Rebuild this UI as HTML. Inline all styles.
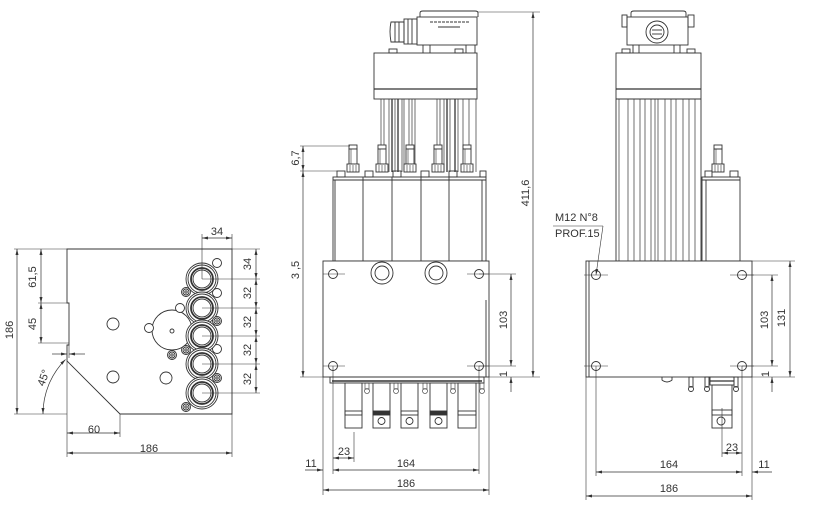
<!DOCTYPE html>
<html><head><meta charset="utf-8"><style>
html,body{margin:0;padding:0;background:#fff;}
svg{display:block;}
text{font-family:"Liberation Sans",sans-serif;font-size:11px;fill:#333;}
</style></head><body>
<svg width="816" height="516" viewBox="0 0 816 516" xmlns="http://www.w3.org/2000/svg">
<defs>
<marker id="a" viewBox="0 0 8 4" refX="8" refY="2" markerWidth="6" markerHeight="3" markerUnits="userSpaceOnUse" orient="auto-start-reverse"><path d="M0,0L8,2L0,4z" fill="#333"/></marker>
</defs>

<!-- ================= LEFT VIEW ================= -->
<g fill="none" stroke="#333" stroke-width="0.9">
<path d="M67,249H232V414H120L67,361V345H69V303H67Z"/>
<circle cx="113" cy="324" r="6"/>
<circle cx="113" cy="377" r="6"/>
<circle cx="166" cy="378" r="6"/>
<circle cx="172" cy="330" r="20"/>
<circle cx="172" cy="331" r="2"/>
<circle cx="149" cy="328" r="4.5" fill="#fff"/>
<circle cx="180" cy="308" r="4.5" fill="#fff"/>
<circle cx="217" cy="263" r="4.5"/>
<circle cx="217" cy="293" r="4.5"/>
<circle cx="217" cy="349" r="4.5"/>
<g>
<circle cx="202" cy="279" r="16" fill="#fff"/><circle cx="202" cy="279" r="14"/><circle cx="202" cy="279" r="11" stroke-width="1.8"/><circle cx="202" cy="279" r="9"/>
<circle cx="202" cy="308" r="16" fill="#fff"/><circle cx="202" cy="308" r="14"/><circle cx="202" cy="308" r="11" stroke-width="1.8"/><circle cx="202" cy="308" r="9"/>
<circle cx="202" cy="336" r="16" fill="#fff"/><circle cx="202" cy="336" r="14"/><circle cx="202" cy="336" r="11" stroke-width="1.8"/><circle cx="202" cy="336" r="9"/>
<circle cx="202" cy="364" r="16" fill="#fff"/><circle cx="202" cy="364" r="14"/><circle cx="202" cy="364" r="11" stroke-width="1.8"/><circle cx="202" cy="364" r="9"/>
<circle cx="202" cy="393" r="16" fill="#fff"/><circle cx="202" cy="393" r="14"/><circle cx="202" cy="393" r="11" stroke-width="1.8"/><circle cx="202" cy="393" r="9"/>
</g>
<g>
<circle cx="186" cy="292" r="4.5" fill="#fff"/><circle cx="186" cy="292" r="3"/><circle cx="186" cy="292" r="1.2"/>
<circle cx="217" cy="321" r="4.5" fill="#fff"/><circle cx="217" cy="321" r="3"/><circle cx="217" cy="321" r="1.2"/>
<circle cx="172" cy="355" r="4.5" fill="#fff"/><circle cx="172" cy="355" r="3"/><circle cx="172" cy="355" r="1.2"/>
<circle cx="186" cy="350" r="4.5" fill="#fff"/><circle cx="186" cy="350" r="3"/><circle cx="186" cy="350" r="1.2"/>
<circle cx="217" cy="378" r="4.5" fill="#fff"/><circle cx="217" cy="378" r="3"/><circle cx="217" cy="378" r="1.2"/>
<circle cx="186" cy="407" r="4.5" fill="#fff"/><circle cx="186" cy="407" r="3"/><circle cx="186" cy="407" r="1.2"/>
</g>
<g stroke-width="0.6">
<line x1="202" y1="279" x2="260" y2="279"/>
<line x1="202" y1="308" x2="260" y2="308"/>
<line x1="202" y1="336" x2="260" y2="336"/>
<line x1="202" y1="364" x2="260" y2="364"/>
<line x1="202" y1="393" x2="260" y2="393"/>
<line x1="232" y1="249" x2="260" y2="249"/>
<line x1="202" y1="234" x2="202" y2="279"/>
<line x1="232" y1="234" x2="232" y2="249"/>
<line x1="14" y1="249" x2="67" y2="249"/>
<line x1="14" y1="414" x2="67" y2="414"/>
<line x1="38" y1="303" x2="69" y2="303"/>
<line x1="38" y1="343" x2="69" y2="343"/>
<line x1="69" y1="345" x2="69" y2="358"/>
<line x1="67" y1="361" x2="67" y2="457"/>
<line x1="120" y1="414" x2="120" y2="437"/>
<line x1="232" y1="414" x2="232" y2="457"/>
</g>
<g stroke-width="0.7">
<line x1="202" y1="238" x2="232" y2="238" marker-start="url(#a)" marker-end="url(#a)"/>
<line x1="256" y1="249" x2="256" y2="279" marker-start="url(#a)" marker-end="url(#a)"/>
<line x1="256" y1="279" x2="256" y2="308" marker-start="url(#a)" marker-end="url(#a)"/>
<line x1="256" y1="308" x2="256" y2="336" marker-start="url(#a)" marker-end="url(#a)"/>
<line x1="256" y1="336" x2="256" y2="364" marker-start="url(#a)" marker-end="url(#a)"/>
<line x1="256" y1="364" x2="256" y2="393" marker-start="url(#a)" marker-end="url(#a)"/>
<line x1="17" y1="249" x2="17" y2="414" marker-start="url(#a)" marker-end="url(#a)"/>
<line x1="41" y1="249" x2="41" y2="303" marker-start="url(#a)" marker-end="url(#a)"/>
<line x1="41" y1="303" x2="41" y2="343" marker-start="url(#a)" marker-end="url(#a)"/>
<line x1="52" y1="354" x2="67" y2="354" marker-end="url(#a)"/>
<line x1="85" y1="354" x2="69" y2="354" marker-end="url(#a)"/>
<path d="M43,414A77,77 0 0 1 65.5,359.5" marker-start="url(#a)" marker-end="url(#a)"/>
<line x1="67" y1="433" x2="120" y2="433" marker-start="url(#a)" marker-end="url(#a)"/>
<line x1="67" y1="453" x2="232" y2="453" marker-start="url(#a)" marker-end="url(#a)"/>
</g>
</g>

<!-- ================= MIDDLE VIEW ================= -->
<g fill="none" stroke="#333" stroke-width="0.9">
<path d="M420,17V13Q420,11 423,11H475Q478,11 478,13V17"/>
<rect x="417" y="17" width="60" height="28"/>
<line x1="430" y1="22" x2="470" y2="22" stroke-dasharray="3,1"/>
<line x1="438" y1="27" x2="460" y2="27"/>
<path d="M391,22Q389,31 391,42H404V22Z"/>
<line x1="395" y1="22" x2="395" y2="42"/>
<line x1="399" y1="22" x2="399" y2="42"/>
<rect x="404" y="19" width="13" height="25"/>
<line x1="408" y1="19" x2="408" y2="44"/>
<line x1="412" y1="19" x2="412" y2="44"/>
<line x1="423" y1="45" x2="423" y2="53"/>
<line x1="430" y1="45" x2="430" y2="53"/>
<line x1="466" y1="45" x2="466" y2="53"/>
<line x1="475" y1="45" x2="475" y2="53"/>
<rect x="389" y="49" width="8" height="4"/>
<rect x="455" y="49" width="8" height="4"/>
<rect x="374" y="53" width="103" height="46"/>
<line x1="374" y1="89" x2="477" y2="89" stroke-width="1.2"/>
<g stroke-width="0.7">
<line x1="381" y1="99" x2="381" y2="150"/><line x1="384" y1="99" x2="384" y2="150"/>
<line x1="389" y1="99" x2="389" y2="172"/><line x1="392" y1="99" x2="392" y2="172" stroke-width="1.3"/>
<line x1="395" y1="99" x2="395" y2="172"/><line x1="398" y1="99" x2="398" y2="172" stroke-width="1.3"/>
<line x1="402" y1="99" x2="402" y2="172"/><line x1="404" y1="99" x2="404" y2="172"/>
<line x1="409" y1="99" x2="409" y2="150"/><line x1="412" y1="99" x2="412" y2="150"/>
<line x1="415" y1="99" x2="415" y2="172"/>
<line x1="437" y1="99" x2="437" y2="150"/><line x1="440" y1="99" x2="440" y2="150"/>
<line x1="444" y1="99" x2="444" y2="172"/><line x1="447" y1="99" x2="447" y2="172" stroke-width="1.3"/>
<line x1="450" y1="99" x2="450" y2="172"/><line x1="455" y1="99" x2="455" y2="172" stroke-width="1.3"/>
<line x1="458" y1="99" x2="458" y2="172"/>
<line x1="463" y1="99" x2="463" y2="150"/><line x1="469" y1="99" x2="469" y2="150"/>
<line x1="476" y1="99" x2="476" y2="172"/>
</g>
<g fill="#fff">
<rect x="349" y="145" width="8" height="4"/><rect x="349" y="149" width="8" height="15"/><rect x="347" y="164" width="12" height="8"/>
<rect x="378" y="145" width="8" height="4"/><rect x="378" y="149" width="8" height="15"/><rect x="376" y="164" width="12" height="8"/>
<rect x="406" y="145" width="8" height="4"/><rect x="406" y="149" width="8" height="15"/><rect x="404" y="164" width="12" height="8"/>
<rect x="434" y="145" width="8" height="4"/><rect x="434" y="149" width="8" height="15"/><rect x="432" y="164" width="12" height="8"/>
<rect x="463" y="145" width="8" height="4"/><rect x="463" y="149" width="8" height="15"/><rect x="461" y="164" width="12" height="8"/>
</g>
<g stroke-width="0.6">
<line x1="351" y1="149" x2="351" y2="164"/><line x1="350" y1="165" x2="350" y2="172"/><line x1="353" y1="165" x2="353" y2="172"/><line x1="356" y1="165" x2="356" y2="172"/>
<line x1="380" y1="149" x2="380" y2="164"/><line x1="379" y1="165" x2="379" y2="172"/><line x1="382" y1="165" x2="382" y2="172"/><line x1="385" y1="165" x2="385" y2="172"/>
<line x1="408" y1="149" x2="408" y2="164"/><line x1="407" y1="165" x2="407" y2="172"/><line x1="410" y1="165" x2="410" y2="172"/><line x1="413" y1="165" x2="413" y2="172"/>
<line x1="436" y1="149" x2="436" y2="164"/><line x1="435" y1="165" x2="435" y2="172"/><line x1="438" y1="165" x2="438" y2="172"/><line x1="441" y1="165" x2="441" y2="172"/>
<line x1="465" y1="149" x2="465" y2="164"/><line x1="464" y1="165" x2="464" y2="172"/><line x1="467" y1="165" x2="467" y2="172"/><line x1="470" y1="165" x2="470" y2="172"/>
</g>
<rect x="337" y="171" width="8" height="6"/>
<rect x="365" y="171" width="8" height="6"/>
<rect x="393" y="171" width="8" height="6"/>
<rect x="421" y="171" width="8" height="6"/>
<rect x="449" y="171" width="8" height="6"/>
<rect x="480" y="171" width="6" height="6"/>
<rect x="333" y="177" width="153" height="84"/>
<line x1="333" y1="180" x2="486" y2="180"/>
<line x1="335" y1="180" x2="335" y2="261"/>
<line x1="363" y1="177" x2="363" y2="261"/>
<line x1="392" y1="177" x2="392" y2="261"/>
<line x1="421" y1="177" x2="421" y2="261"/>
<line x1="449" y1="177" x2="449" y2="261"/>
<line x1="482" y1="180" x2="482" y2="261"/>
<rect x="323" y="261" width="166" height="116" fill="#fff"/>
<line x1="486" y1="300" x2="486" y2="377"/>
<circle cx="333" cy="274" r="4.5"/><circle cx="479" cy="274" r="4.5"/>
<circle cx="333" cy="366" r="4.5"/><circle cx="479" cy="366" r="4.5"/>
<circle cx="382" cy="273" r="11"/><circle cx="382" cy="273" r="7"/>
<circle cx="436" cy="273" r="11"/><circle cx="436" cy="273" r="7"/>
<g stroke-width="0.5">
<line x1="323" y1="274" x2="345" y2="274"/><line x1="467" y1="274" x2="489" y2="274"/>
<line x1="323" y1="366" x2="345" y2="366"/><line x1="467" y1="366" x2="489" y2="366"/>
</g>
<rect x="330" y="377" width="154" height="6"/>
<line x1="332" y1="381" x2="482" y2="381" stroke-width="1.4"/>
<g fill="#fff">
<rect x="345" y="383" width="17" height="45"/>
<rect x="373" y="383" width="17" height="45"/>
<rect x="401" y="383" width="17" height="45"/>
<rect x="430" y="383" width="17" height="45"/>
<rect x="458" y="383" width="18" height="45"/>
</g>
<rect x="345" y="411" width="17" height="4"/>
<rect x="373" y="411" width="17" height="4" fill="#333"/>
<rect x="401" y="411" width="17" height="4"/>
<rect x="430" y="411" width="17" height="4" fill="#333"/>
<rect x="458" y="411" width="18" height="4"/>
<circle cx="381.5" cy="421" r="3.5"/>
<circle cx="409.5" cy="421" r="3.5"/>
<circle cx="438.5" cy="421" r="3.5"/>
<g stroke-width="0.6">
<rect x="365" y="383" width="4" height="6"/><circle cx="367" cy="391" r="2.5"/>
<rect x="394" y="383" width="4" height="6"/><circle cx="396" cy="391" r="2.5"/>
<rect x="423" y="383" width="4" height="6"/><circle cx="425" cy="391" r="2.5"/>
<rect x="451" y="383" width="4" height="6"/><circle cx="453" cy="391" r="2.5"/>
<rect x="480" y="383" width="4" height="6"/><circle cx="482" cy="391" r="2.5"/>
</g>
<g stroke-width="0.6">
<line x1="478" y1="12" x2="540" y2="12"/>
<line x1="489" y1="377" x2="540" y2="377"/>
<line x1="300" y1="146" x2="350" y2="146"/>
<line x1="300" y1="171" x2="337" y2="171"/>
<line x1="300" y1="377" x2="323" y2="377"/>
<line x1="479" y1="274" x2="516" y2="274"/>
<line x1="479" y1="366" x2="516" y2="366"/>
<line x1="323" y1="377" x2="323" y2="495"/>
<line x1="333" y1="366" x2="333" y2="474"/>
<line x1="354" y1="432" x2="354" y2="462"/>
<line x1="479" y1="366" x2="479" y2="474"/>
<line x1="489" y1="377" x2="489" y2="495"/>
</g>
<g stroke-width="0.7">
<line x1="533" y1="12" x2="533" y2="377" marker-start="url(#a)" marker-end="url(#a)"/>
<line x1="303" y1="146" x2="303" y2="171" marker-start="url(#a)" marker-end="url(#a)"/>
<line x1="303" y1="171" x2="303" y2="377" marker-start="url(#a)" marker-end="url(#a)"/>
<line x1="511" y1="274" x2="511" y2="366" marker-start="url(#a)" marker-end="url(#a)"/>
<line x1="511" y1="392" x2="511" y2="377" marker-end="url(#a)"/>
<line x1="333" y1="458" x2="354" y2="458" marker-start="url(#a)" marker-end="url(#a)"/>
<line x1="305" y1="470" x2="323" y2="470" marker-end="url(#a)"/>
<line x1="333" y1="470" x2="479" y2="470" marker-start="url(#a)" marker-end="url(#a)"/>
<line x1="323" y1="490" x2="489" y2="490" marker-start="url(#a)" marker-end="url(#a)"/>
</g>
</g>

<!-- ================= RIGHT VIEW ================= -->
<g fill="none" stroke="#333" stroke-width="0.9">
<path d="M631,17V13Q631,11 634,11H683Q686,11 686,13V17"/>
<rect x="627" y="17" width="61" height="28"/>
<rect x="622" y="15" width="5" height="12"/>
<rect x="688" y="15" width="6" height="12"/>
<circle cx="657" cy="32" r="11"/>
<circle cx="657" cy="32" r="7"/>
<line x1="652" y1="30" x2="662" y2="30"/>
<line x1="652" y1="34" x2="662" y2="34"/>
<line x1="633" y1="45" x2="633" y2="53"/>
<line x1="639" y1="45" x2="639" y2="53"/>
<line x1="674" y1="45" x2="674" y2="53"/>
<line x1="680" y1="45" x2="680" y2="53"/>
<rect x="622" y="49" width="8" height="4"/>
<rect x="687" y="49" width="8" height="4"/>
<rect x="616" y="53" width="85" height="208"/>
<line x1="616" y1="89" x2="701" y2="89" stroke-width="1.2"/>
<line x1="616" y1="99" x2="701" y2="99"/>
<g stroke-width="0.7">
<line x1="619" y1="99" x2="619" y2="261"/>
<line x1="628" y1="99" x2="628" y2="261"/>
<line x1="634" y1="99" x2="634" y2="261"/>
<line x1="640" y1="99" x2="640" y2="261"/>
<line x1="645" y1="99" x2="645" y2="261"/>
<line x1="651" y1="99" x2="651" y2="261"/>
<line x1="655" y1="99" x2="655" y2="261"/>
<line x1="658" y1="99" x2="658" y2="261"/>
<line x1="665" y1="99" x2="665" y2="261"/>
<line x1="671" y1="99" x2="671" y2="261"/>
<line x1="676" y1="99" x2="676" y2="261"/>
<line x1="683" y1="99" x2="683" y2="261"/>
<line x1="689" y1="99" x2="689" y2="261"/>
<line x1="695" y1="99" x2="695" y2="261"/>
</g>
<rect x="705" y="171" width="7" height="6"/>
<rect x="730" y="171" width="8" height="6"/>
<rect x="702" y="177" width="38" height="84"/>
<line x1="702" y1="180" x2="740" y2="180"/>
<line x1="706" y1="180" x2="706" y2="261"/>
<rect x="714" y="145" width="8" height="4"/>
<rect x="714" y="149" width="8" height="15"/>
<rect x="712" y="164" width="12" height="8"/>
<line x1="716" y1="149" x2="716" y2="164" stroke-width="0.6"/>
<line x1="715" y1="165" x2="715" y2="172" stroke-width="0.6"/>
<line x1="718" y1="165" x2="718" y2="172" stroke-width="0.6"/>
<line x1="721" y1="165" x2="721" y2="172" stroke-width="0.6"/>
<rect x="586" y="261" width="166" height="116" fill="#fff"/>
<line x1="589" y1="261" x2="589" y2="377"/>
<circle cx="596" cy="275" r="4.5"/><circle cx="742" cy="275" r="4.5"/>
<circle cx="596" cy="366" r="4.5"/><circle cx="742" cy="366" r="4.5"/>
<g stroke-width="0.5">
<line x1="584" y1="275" x2="608" y2="275"/><line x1="730" y1="275" x2="754" y2="275"/>
<line x1="584" y1="366" x2="608" y2="366"/><line x1="730" y1="366" x2="754" y2="366"/>
</g>
<path d="M662,377V380Q667,384 672,380V377"/>
<rect x="689" y="377" width="4" height="10"/><circle cx="691" cy="389" r="2.5"/>
<rect x="705" y="377" width="4" height="10"/><circle cx="707" cy="389" r="2.5"/>
<rect x="734" y="377" width="4" height="10"/><circle cx="736" cy="389" r="2.5"/>
<rect x="710" y="377" width="24" height="8"/>
<line x1="710" y1="381" x2="734" y2="381" stroke-width="1.3"/>
<rect x="712" y="385" width="20" height="43"/>
<rect x="712" y="410" width="20" height="5"/>
<circle cx="721" cy="421" r="4"/>
<line x1="553" y1="226" x2="603" y2="226" stroke-width="0.6"/>
<line x1="603" y1="226" x2="596" y2="275" stroke-width="0.6" marker-end="url(#a)"/>
<g stroke-width="0.6">
<line x1="752" y1="261" x2="795" y2="261"/>
<line x1="742" y1="275" x2="778" y2="275"/>
<line x1="742" y1="366" x2="778" y2="366"/>
<line x1="752" y1="377" x2="795" y2="377"/>
<line x1="586" y1="377" x2="586" y2="500"/>
<line x1="596" y1="366" x2="596" y2="476"/>
<line x1="722" y1="408" x2="722" y2="457"/>
<line x1="742" y1="366" x2="742" y2="476"/>
<line x1="752" y1="377" x2="752" y2="500"/>
</g>
<g stroke-width="0.7">
<line x1="772" y1="275" x2="772" y2="366" marker-start="url(#a)" marker-end="url(#a)"/>
<line x1="772" y1="392" x2="772" y2="377" marker-end="url(#a)"/>
<line x1="790" y1="261" x2="790" y2="377" marker-start="url(#a)" marker-end="url(#a)"/>
<line x1="722" y1="453" x2="742" y2="453" marker-start="url(#a)" marker-end="url(#a)"/>
<line x1="596" y1="472" x2="742" y2="472" marker-start="url(#a)" marker-end="url(#a)"/>
<line x1="772" y1="472" x2="752" y2="472" marker-end="url(#a)"/>
<line x1="586" y1="496" x2="752" y2="496" marker-start="url(#a)" marker-end="url(#a)"/>
</g>
</g>

<!-- ================= TEXT ================= -->
<g>
<text x="217" y="235" text-anchor="middle">34</text>
<text transform="translate(10,330) rotate(-90)" text-anchor="middle" dominant-baseline="central">186</text>
<text transform="translate(33,277) rotate(-90)" text-anchor="middle" dominant-baseline="central">61,5</text>
<text transform="translate(33,324) rotate(-90)" text-anchor="middle" dominant-baseline="central">45</text>
<text transform="translate(44,378) rotate(-70)" text-anchor="middle" dominant-baseline="central">45°</text>
<text x="94" y="433" text-anchor="middle">60</text>
<text x="149" y="452" text-anchor="middle">186</text>
<text transform="translate(248,264) rotate(-90)" text-anchor="middle" dominant-baseline="central">34</text>
<text transform="translate(248,293) rotate(-90)" text-anchor="middle" dominant-baseline="central">32</text>
<text transform="translate(248,322) rotate(-90)" text-anchor="middle" dominant-baseline="central">32</text>
<text transform="translate(248,350) rotate(-90)" text-anchor="middle" dominant-baseline="central">32</text>
<text transform="translate(248,379) rotate(-90)" text-anchor="middle" dominant-baseline="central">32</text>
<text transform="translate(296,158) rotate(-90)" text-anchor="middle" dominant-baseline="central">6,7</text>
<text transform="translate(296,270) rotate(-90)" text-anchor="middle" dominant-baseline="central">3 ,5</text>
<text transform="translate(526,193) rotate(-90)" text-anchor="middle" dominant-baseline="central">411,6</text>
<text transform="translate(504,320) rotate(-90)" text-anchor="middle" dominant-baseline="central">103</text>
<text transform="translate(504,374) rotate(-90)" text-anchor="middle" dominant-baseline="central">1</text>
<text x="344" y="455" text-anchor="middle">23</text>
<text x="311" y="467" text-anchor="middle">11</text>
<text x="406" y="467" text-anchor="middle">164</text>
<text x="406" y="487" text-anchor="middle">186</text>
<text x="555" y="221" font-size="10.5">M12  N°8</text>
<text x="555" y="237" font-size="10.5">PROF.15</text>
<text transform="translate(765,320) rotate(-90)" text-anchor="middle" dominant-baseline="central">103</text>
<text transform="translate(782,318) rotate(-90)" text-anchor="middle" dominant-baseline="central">131</text>
<text transform="translate(766,374) rotate(-90)" text-anchor="middle" dominant-baseline="central">1</text>
<text x="732" y="451" text-anchor="middle">23</text>
<text x="669" y="468" text-anchor="middle">164</text>
<text x="764" y="468" text-anchor="middle">11</text>
<text x="669" y="492" text-anchor="middle">186</text>
</g>
</svg>
</body></html>
